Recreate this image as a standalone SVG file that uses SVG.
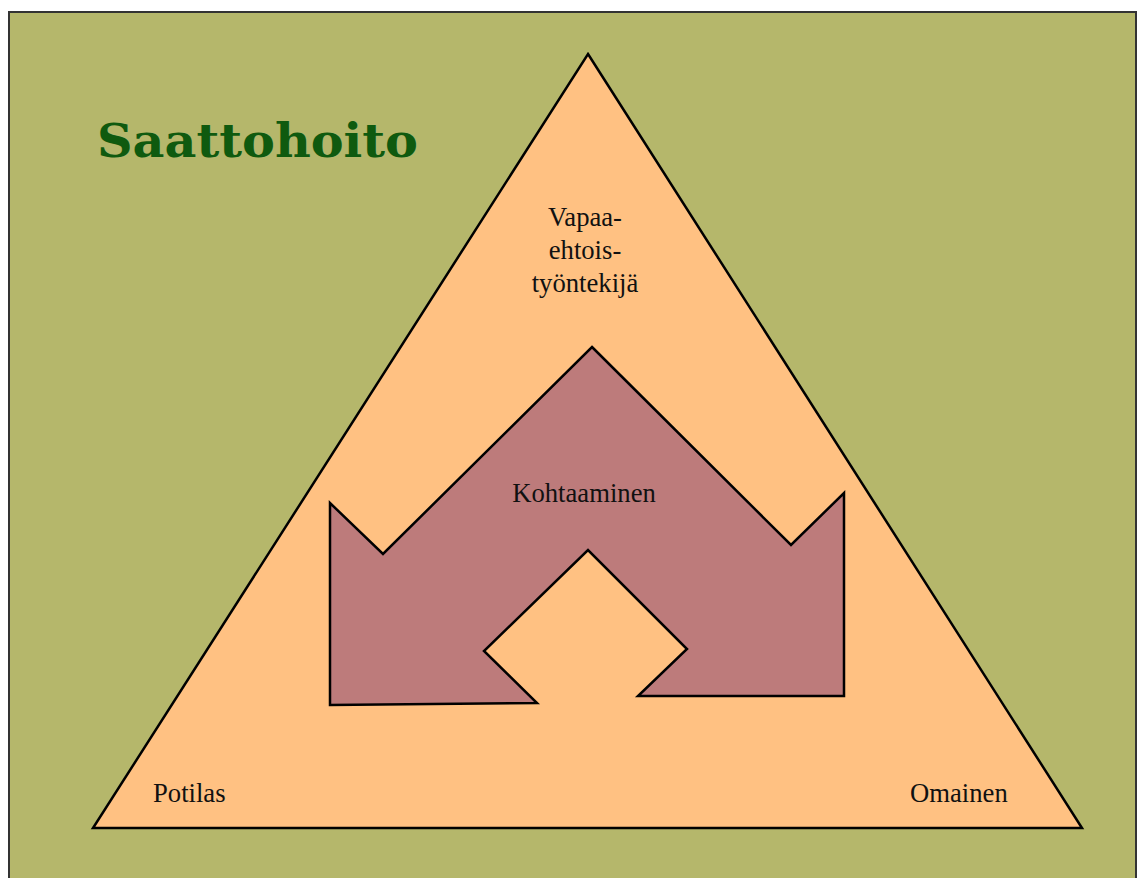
<svg xmlns="http://www.w3.org/2000/svg" width="1139" height="878" viewBox="0 0 1139 878">
  <style>
    .lbl { font-family: "Liberation Serif", "Times New Roman", serif; font-size: 26.67px; fill: #111111; }
    .title { font-family: "DejaVu Serif", "Liberation Serif", serif; font-weight: bold; font-size: 46px; fill: #0f5a0f; }
    .shape { stroke: #000000; stroke-width: 2.5; stroke-linejoin: miter; }
  </style>
  <rect x="0" y="0" width="1139" height="878" fill="#ffffff"/>
  <rect id="background" x="9" y="12" width="1127" height="880" fill="#b5b76b" stroke="#333333" stroke-width="2"/>
  <text id="title" class="title" x="97" y="157" textLength="321" lengthAdjust="spacingAndGlyphs">Saattohoito</text>
  <g id="triangle">
    <polygon class="shape" points="588,54 1082,828 93,828" fill="#ffc182"/>
  </g>
  <g id="arrow">
    <polygon class="shape" fill="#bd7b7b" points="592,347 791,545 844,493 844,696 638,696 687,649 588,550 484,651 537,703 330,705 330,503 383,554"/>
  </g>
  <g id="vapaaehtoistyontekija">
    <text class="lbl" x="585" y="226" text-anchor="middle">Vapaa-</text>
    <text class="lbl" x="585" y="259" text-anchor="middle">ehtois-</text>
    <text class="lbl" x="585" y="292" text-anchor="middle">työntekijä</text>
  </g>
  <g id="kohtaaminen">
    <text class="lbl" x="584" y="502" text-anchor="middle">Kohtaaminen</text>
  </g>
  <g id="potilas">
    <text class="lbl" x="153" y="802">Potilas</text>
  </g>
  <g id="omainen">
    <text class="lbl" x="910" y="802">Omainen</text>
  </g>
  <g id="connectors"></g>
</svg>
